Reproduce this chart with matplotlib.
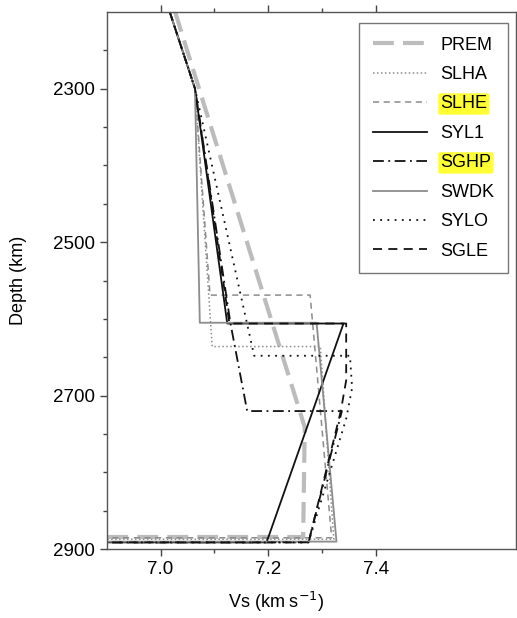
import matplotlib
matplotlib.use('Agg')
import matplotlib.pyplot as plt
from matplotlib.ticker import FixedLocator

plt.rcParams['font.family'] = ['Liberation Sans', 'DejaVu Sans']
plt.rcParams['font.size'] = 13

# Vs (km/s) and depth (km) for each model
prem_vs = [7.027, 7.268, 7.265, 0.0]
prem_dep = [2200, 2741, 2884, 2884]

slha_vs = [7.017, 7.064, 7.096, 7.297, 7.322, 0.0]
slha_dep = [2200, 2300, 2636, 2636, 2887, 2887]

slhe_vs = [7.017, 7.064, 7.092, 7.278, 7.318, 0.0]
slhe_dep = [2200, 2300, 2569, 2569, 2885, 2885]

syl1_vs = [7.017, 7.064, 7.124, 7.340, 7.197, 0.0]
syl1_dep = [2200, 2300, 2606, 2606, 2891, 2891]

sghp_vs = [7.017, 7.064, 7.130, 7.161, 7.337, 7.275, 0.0]
sghp_dep = [2200, 2300, 2606, 2720, 2720, 2891, 2891]

swdk_vs = [7.017, 7.064, 7.073, 7.290, 7.327, 0.0]
swdk_dep = [2200, 2300, 2605, 2605, 2890, 2890]

sylo_vs = [7.017, 7.064, 7.174, 7.352, 7.356, 7.345, 7.275, 0.0]
sylo_dep = [2200, 2300, 2648, 2648, 2690, 2730, 2891, 2891]

sgle_vs = [7.017, 7.064, 7.128, 7.345, 7.345, 7.335, 7.275, 0.0]
sgle_dep = [2200, 2300, 2606, 2606, 2680, 2720, 2891, 2891]

fig = plt.figure(figsize=(5.17, 6.18), dpi=100)
ax = fig.add_axes([0.2064, 0.1112, 0.7911, 0.8698])

ax.plot(prem_vs, prem_dep, color='#bcbcbc', lw=3, dashes=(5, 2.2), label='PREM')
ax.plot(slha_vs, slha_dep, color='#8c8c8c', lw=1.1, dashes=(1, 1.6), label='SLHA')
ax.plot(slhe_vs, slhe_dep, color='#8c8c8c', lw=1.1, dashes=(4, 3), label='SLHE')
ax.plot(syl1_vs, syl1_dep, color='#111111', lw=1.3, label='SYL1')
ax.plot(sghp_vs, sghp_dep, color='#111111', lw=1.3, dashes=(6, 2.5, 1, 2.5), label='SGHP')
ax.plot(swdk_vs, swdk_dep, color='#8c8c8c', lw=1.3, label='SWDK')
ax.plot(sylo_vs, sylo_dep, color='#111111', lw=1.3, dashes=(1, 3), label='SYLO')
ax.plot(sgle_vs, sgle_dep, color='#111111', lw=1.3, dashes=(5, 3.5), label='SGLE')

ax.set_xlim(6.9, 7.66)
ax.set_ylim(2900, 2200)

ax.xaxis.set_major_locator(FixedLocator([7.0, 7.2, 7.4]))
ax.xaxis.set_minor_locator(FixedLocator([7.1, 7.3]))
ax.yaxis.set_major_locator(FixedLocator([2300, 2500, 2700, 2900]))
ax.yaxis.set_minor_locator(FixedLocator([2250, 2350, 2400, 2450, 2550, 2600, 2650,
                                         2750, 2800, 2850]))
ax.tick_params(axis='x', which='both', direction='out', top=True, color='#444444')
ax.tick_params(axis='y', which='both', direction='out', color='#444444')
ax.tick_params(which='major', length=5, width=1, labelsize=13.5)
ax.tick_params(which='minor', length=3, width=1)
for s in ax.spines.values():
    s.set_color('#555555')
    s.set_linewidth(1)

ax.set_xlabel('Vs (km s$^{-1}$)')
ax.set_ylabel('Depth (km)')
ax.xaxis.set_label_coords(0.414, -0.075)
ax.yaxis.set_label_coords(-0.195, 0.5)

leg = ax.legend(loc='upper right', bbox_to_anchor=(0.981, 0.979), borderaxespad=0,
                fancybox=False, edgecolor='#555555', handlelength=3.0,
                handletextpad=0.75, labelspacing=0.69, borderpad=0.75, fontsize=13)
leg.get_frame().set_linewidth(1)
for t in leg.get_texts():
    if t.get_text() in ('SLHE', 'SGHP'):
        t.set_bbox(dict(facecolor='#ffff33', edgecolor='none',
                        boxstyle='round,pad=0.12'))

fig.savefig('out.png', dpi=100)
